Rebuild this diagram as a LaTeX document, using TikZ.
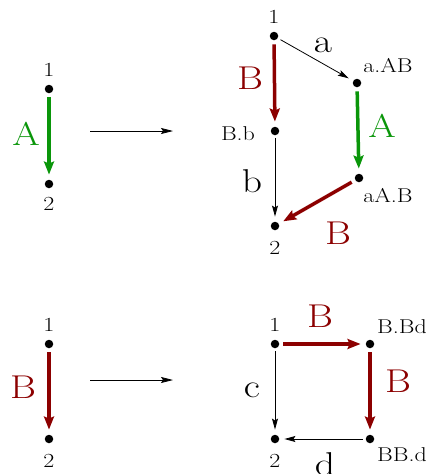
\documentclass[tikz,border=0pt]{standalone}
\usepackage{graphicx}
\usetikzlibrary{arrows.meta}
\definecolor{mygreen}{RGB}{10,150,10}
\definecolor{myred}{RGB}{140,0,0}
\newcommand{\wtxt}[1]{\scalebox{1.2}[1]{#1}}
\begin{document}
\begin{tikzpicture}[x=1pt,y=-1pt,
  dot/.style={circle,fill=black,inner sep=0pt,minimum size=8.5pt},
  lab/.style={font=\fontsize{20}{22}\selectfont},
  big/.style={font=\fontsize{33}{36}\selectfont},
  thin/.style={line width=0.8pt,-{Stealth[length=11pt,width=6pt,inset=2pt]},shorten >=5pt,shorten <=3pt},
  thick/.style={line width=3.5pt,-{Stealth[length=13pt,width=10pt,inset=2pt]},shorten >=5pt,shorten <=4pt},
  map/.style={line width=0.8pt,-{Stealth[length=12pt,width=6pt,inset=2pt]}}]
\useasboundingbox (0,0) rectangle (428,474);
% top-left
\node[dot] (t1) at (49,89) {};
\node[dot] (t2) at (49,184) {};
\node[lab] (t1l) at (49,70) {\wtxt{1}};
\node[lab] (t2l) at (49,204) {\wtxt{2}};
\draw[thick,mygreen] (t1) -- (t2);
\node[big,mygreen] (tA) at (26,134) {\wtxt{A}};
\coordinate (ma1) at (90,131);
\coordinate (ma2) at (173,131);
\draw[map] (ma1) -- (ma2);
% top-right
\node[dot] (r1) at (274,36) {};
\node[dot] (rBb) at (275,131) {};
\node[dot] (raAB) at (357,83) {};
\node[dot] (raAB2) at (359,178) {};
\node[dot] (r2) at (275,226) {};
\node[lab] (r1l) at (274,17) {\wtxt{1}};
\node[lab] (r2l) at (275,248) {\wtxt{2}};
\node[lab] (rBbl) at (238,134) {\wtxt{B.b}};
\node[lab] (raABl) at (388,66) {\wtxt{a.AB}};
\node[lab] (raAB2l) at (388,196) {\wtxt{aA.B}};
\node[big] (ra) at (323,45) {\wtxt{a}};
\node[big] (rb) at (252,181) {\wtxt{b}};
\node[big,myred] (rB1) at (250,78) {\wtxt{B}};
\node[big,mygreen] (rA) at (382,126) {\wtxt{A}};
\node[big,myred] (rB2) at (338,233) {\wtxt{B}};
\draw[thick,myred] (r1) -- (rBb);
\draw[thin] (r1) -- (raAB);
\draw[thin] (rBb) -- (r2);
\draw[thick,mygreen] (raAB) -- (raAB2);
\draw[thick,myred] (raAB2) -- (r2);
% bottom-left
\node[dot] (b1) at (49,344) {};
\node[dot] (b2) at (49,439) {};
\node[lab] (b1l) at (49,325) {\wtxt{1}};
\node[lab] (b2l) at (49,461) {\wtxt{2}};
\draw[thick,myred] (b1) -- (b2);
\node[big,myred] (bB) at (23,387) {\wtxt{B}};
\coordinate (mb1) at (90,380);
\coordinate (mb2) at (173,380);
\draw[map] (mb1) -- (mb2);
% bottom-right
\node[dot] (s1) at (275,344) {};
\node[dot] (sBBd) at (370,344) {};
\node[dot] (sBBd2) at (370,439) {};
\node[dot] (s2) at (275,439) {};
\node[lab] (s1l) at (275,325) {\wtxt{1}};
\node[lab] (s2l) at (275,461) {\wtxt{2}};
\node[lab] (sBBdl) at (402,327) {\wtxt{B.Bd}};
\node[lab] (sBBd2l) at (402,455) {\wtxt{BB.d}};
\node[big,myred] (sB1) at (320,316) {\wtxt{B}};
\node[big,myred] (sB2) at (398,381) {\wtxt{B}};
\node[big] (sc) at (252,390) {\wtxt{c}};
\node[big] (sd) at (325,464) {\wtxt{d}};
\draw[thick,myred] (s1) -- (sBBd);
\draw[thick,myred] (sBBd) -- (sBBd2);
\draw[thin] (s1) -- (s2);
\draw[thin] (sBBd2) -- (s2);
\end{tikzpicture}
\end{document}
